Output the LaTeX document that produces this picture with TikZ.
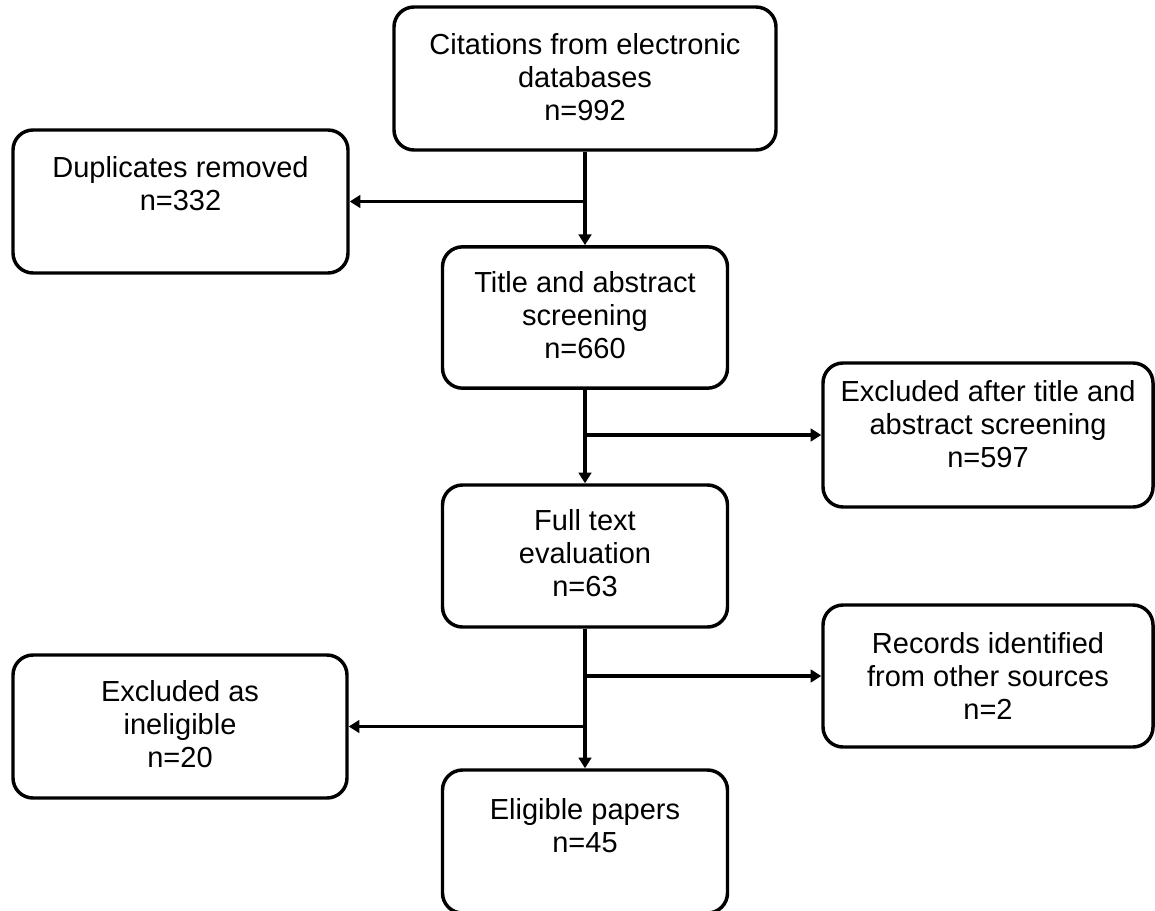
\documentclass[tikz,border=0pt]{standalone}
\usepackage{fontspec}
\setmainfont{Liberation Sans}
\usetikzlibrary{arrows.meta}
\tikzset{
  box/.style={draw=black, line width=2.6pt, rounded corners=15pt, fill=white, inner sep=0pt},
  txt/.style={inner sep=0pt, align=center, font=\fontsize{21.75pt}{24.75pt}\selectfont},
  conn/.style={draw=black, line width=2.4pt, -{Triangle[length=8pt,width=9.5pt]}},
  trunk/.style={draw=black, line width=2.4pt}
}
\begin{document}
\begin{tikzpicture}[x=0.75pt,y=-0.75pt]
\useasboundingbox (0,0) rectangle (1155,910);
\clip (0,0) rectangle (1155,910);
\fill[white] (0,0) rectangle (1155,910);
% boxes
\node[box, minimum width=286.5pt, minimum height=107.25pt] (b1) at (585,78.5) {};
\node[box, minimum width=251.25pt, minimum height=107.25pt] (b2) at (180.5,201.5) {};
\node[box, minimum width=213.75pt, minimum height=106pt] (b3) at (585,317.5) {};
\node[box, minimum width=247.5pt, minimum height=108pt] (b4) at (988,435) {};
\node[box, minimum width=213.75pt, minimum height=106.5pt] (b5) at (585,556) {};
\node[box, minimum width=247.5pt, minimum height=106.5pt] (b6) at (988,676) {};
\node[box, minimum width=250.5pt, minimum height=107.25pt] (b7) at (180,726.5) {};
\node[box, minimum width=213.75pt, minimum height=107.25pt] (b8) at (585,841.5) {};
% texts
\node[txt] (t1) at (585,77) {Citations from electronic\\databases\\n=992};
\node[txt] (t2) at (180.5,184) {Duplicates removed\\n=332};
\node[txt] (t3) at (585,315) {Title and abstract\\screening\\n=660};
\node[txt] (t4) at (988,424) {Excluded after title and\\abstract screening\\n=597};
\node[txt] (t5) at (585,553) {Full text\\evaluation\\n=63};
\node[txt] (t6) at (988,676) {Records identified\\from other sources\\n=2};
\node[txt] (t7) at (180,724) {Excluded as\\ineligible\\n=20};
\node[txt] (t8) at (585,826) {Eligible papers\\n=45};
% junctions on the trunk
\coordinate (j1) at (b1.south |- b2.east);
\coordinate (j2) at (b3.south |- b4.west);
\coordinate (j3) at (b5.south |- b6.west);
\coordinate (j4) at (b5.south |- b7.east);
% connectors
\draw[conn] (b1.south) -- (b3.north);
\draw[conn] (j1) -- (b2.east);
\draw[conn] (b3.south) -- (b5.north);
\draw[conn] (j2) -- (b4.west);
\draw[conn] (b5.south) -- (b8.north);
\draw[conn] (j3) -- (b6.west);
\draw[conn] (j4) -- (b7.east);
\end{tikzpicture}
\end{document}
